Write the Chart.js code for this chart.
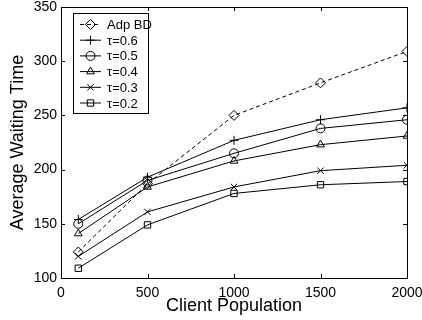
<!DOCTYPE html>
<html>
<head>
<meta charset="utf-8">
<script src="https://cdn.jsdelivr.net/npm/chart.js@4/dist/chart.umd.min.js"></script>
<style>
  html, body { margin: 0; padding: 0; background: #fff; }
  #wrap { width: 422px; height: 320px; }
</style>
</head>
<body>
<div id="wrap"><canvas id="chart"></canvas></div>
<script>
const population = [100, 500, 1000, 1500, 2000];
const adpBD = [124, 187, 250, 280, 309];
const tau06 = [154, 193, 227, 246, 257];
const tau05 = [150, 190, 215, 238, 246];
const tau04 = [141, 184, 208, 223, 231];
const tau03 = [120, 161, 184, 199, 204];
const tau02 = [109, 149, 178, 186, 189];
const xTicks = [0, 500, 1000, 1500, 2000];
const yTicks = [100, 150, 200, 250, 300, 350];

const font = '"Liberation Sans", Arial, sans-serif';

function series(label, values, style, dashed) {
  return {
    label: label,
    data: population.map((x, i) => ({ x: x, y: values[i] })),
    borderColor: '#000',
    backgroundColor: 'rgba(0,0,0,0)',
    borderWidth: 1,
    borderDash: dashed ? [4, 3] : [],
    pointStyle: style,
    pointRadius: style === 'rectRot' ? 5 : 4.5,
    pointBorderColor: '#000',
    pointBorderWidth: 1,
    pointBackgroundColor: 'rgba(0,0,0,0)',
    tension: 0
  };
}

// frame, inward ticks and the legend box, like the original figure
const framePlugin = {
  id: 'frame',
  afterDatasetsDraw(chart) {
    const ctx = chart.ctx;
    const a = chart.chartArea;
    const xs = chart.scales.x, ys = chart.scales.y;
    ctx.save();
    ctx.strokeStyle = '#000';
    ctx.lineWidth = 1;
    ctx.setLineDash([]);
    ctx.strokeRect(a.left + 0.5, a.top + 0.5, a.right - a.left, a.bottom - a.top);
    ctx.beginPath();
    xTicks.forEach(v => {
      const px = Math.round(xs.getPixelForValue(v)) + 0.5;
      ctx.moveTo(px, a.bottom); ctx.lineTo(px, a.bottom - 4);
      ctx.moveTo(px, a.top); ctx.lineTo(px, a.top + 4);
    });
    yTicks.forEach(v => {
      const py = Math.round(ys.getPixelForValue(v)) + 0.5;
      ctx.moveTo(a.left, py); ctx.lineTo(a.left + 4, py);
      ctx.moveTo(a.right, py); ctx.lineTo(a.right - 4, py);
    });
    ctx.stroke();

    // legend
    const bx = 73, by = 13, bw = 75, bh = 100;
    ctx.fillStyle = '#fff';
    ctx.fillRect(bx, by, bw, bh);
    ctx.strokeRect(bx + 0.5, by + 0.5, bw, bh);
    ctx.font = '13px ' + font;
    ctx.textBaseline = 'middle';
    chart.data.datasets.forEach((ds, i) => {
      const y = by + 11.5 + i * 15.7;
      ctx.setLineDash(ds.borderDash);
      ctx.beginPath();
      ctx.moveTo(80, y); ctx.lineTo(101, y);
      ctx.stroke();
      ctx.setLineDash([]);
      ctx.fillStyle = 'rgba(0,0,0,0)';
      Chart.helpers.drawPoint(ctx, { pointStyle: ds.pointStyle, radius: ds.pointRadius, rotation: 0, borderWidth: 1 }, 90.5, y);
      ctx.fillStyle = '#000';
      ctx.fillText(ds.label, 107, y + 1);
    });
    ctx.restore();
  }
};

new Chart(document.getElementById('chart'), {
  type: 'line',
  data: {
    datasets: [
      series('Adp BD', adpBD, 'rectRot', true),
      series('\u03c4=0.6', tau06, 'cross', false),
      series('\u03c4=0.5', tau05, 'circle', false),
      series('\u03c4=0.4', tau04, 'triangle', false),
      series('\u03c4=0.3', tau03, 'crossRot', false),
      series('\u03c4=0.2', tau02, 'rect', false)
    ]
  },
  options: {
    responsive: true,
    maintainAspectRatio: false,
    animation: false,
    layout: { padding: { top: 7, right: 15, left: 0, bottom: 0 } },
    plugins: { legend: { display: false }, tooltip: { enabled: false } },
    scales: {
      x: {
        type: 'linear',
        min: 0, max: 2000,
        afterBuildTicks: s => { s.ticks = xTicks.map(v => ({ value: v })); },
        afterFit: s => { s.height = 42; s.paddingLeft = 0; s.paddingRight = 0; },
        grid: { display: false, drawTicks: false },
        border: { display: false },
        ticks: { color: '#000', font: { family: font, size: 14 }, padding: 7, maxRotation: 0, callback: v => String(v) },
        title: { display: true, text: 'Client Population', color: '#000', font: { family: font, size: 18 }, padding: { top: 0, bottom: 3 } }
      },
      y: {
        min: 100, max: 350,
        afterBuildTicks: s => { s.ticks = yTicks.map(v => ({ value: v })); },
        afterFit: s => { s.width = 61; s.paddingTop = 0; s.paddingBottom = 0; },
        grid: { display: false, drawTicks: false },
        border: { display: false },
        ticks: { color: '#000', font: { family: font, size: 14 }, padding: 4, callback: v => String(v) },
        title: { display: true, text: 'Average Waiting Time', color: '#000', font: { family: font, size: 18 }, padding: { top: 7, bottom: 0 } }
      }
    }
  },
  plugins: [framePlugin]
});
</script>
</body>
</html>
